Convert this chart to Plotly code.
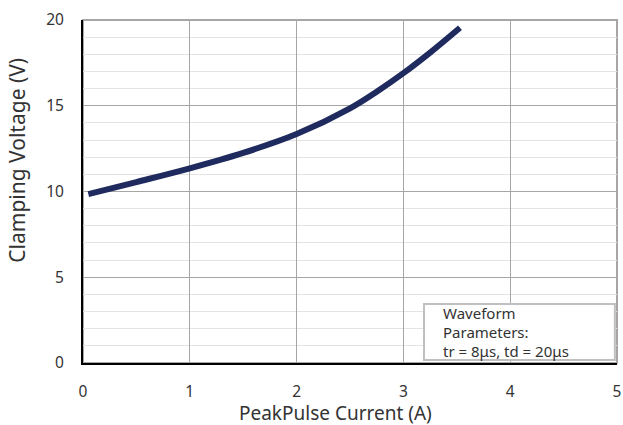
import plotly.graph_objects as go

current_a = [0.05, 0.5, 1.0, 1.5, 2.0, 2.5, 2.75, 3.0, 3.25, 3.53]
clamp_v = [9.85, 10.55, 11.35, 12.25, 13.35, 14.85, 15.82, 16.9, 18.1, 19.55]
x_ticks = [0, 1, 2, 3, 4, 5]
y_ticks = [0, 5, 10, 15, 20]
note_lines = ["Waveform", "Parameters:", "tr = 8μs, td = 20μs"]
note_y = [2.9, 1.79, 0.7]

FONT = "Noto Sans, Open Sans, sans-serif"
TXT = "#333333"

fig = go.Figure()
fig.add_trace(go.Scatter(
    x=current_a, y=clamp_v, mode="lines",
    line=dict(color="#1f2a5e", width=6, shape="spline", smoothing=1.0),
    showlegend=False, hoverinfo="skip"))

fig.update_layout(
    width=623, height=425,
    margin=dict(l=83, r=6, t=20, b=62),
    paper_bgcolor="white", plot_bgcolor="white",
    font=dict(family=FONT, color=TXT, size=15.5),
    xaxis=dict(range=[0, 5], tickvals=x_ticks, ticktext=[str(v) for v in x_ticks],
               automargin=False,
               showgrid=True, gridcolor="#a6a6a6", gridwidth=1,
               zeroline=False, showline=True, linecolor="black", linewidth=2,
               ticks="", ticklabelstandoff=13),
    yaxis=dict(range=[0, 20], tickvals=y_ticks, ticktext=[str(v) for v in y_ticks],
               automargin=False,
               showgrid=True, gridcolor="#a6a6a6", gridwidth=1,
               minor=dict(dtick=1, showgrid=True, gridcolor="#e3e3e3", gridwidth=1),
               zeroline=False, showline=True, linecolor="black", linewidth=2,
               ticks="", ticklabelstandoff=14),
)

# axis titles placed as in the reference
fig.add_annotation(xref="paper", yref="paper", x=0.472, y=-0.1465, xanchor="center", yanchor="middle",
                   text="PeakPulse Current (A)", showarrow=False,
                   font=dict(family=FONT, size=19, color=TXT))
fig.add_annotation(xref="paper", yref="paper", x=-0.124, y=0.592, xanchor="center", yanchor="middle",
                   text="Clamping Voltage (V)", textangle=-90, showarrow=False,
                   font=dict(family=FONT, size=21, color=TXT))

# frame (top/right border)
fig.add_shape(type="rect", xref="paper", yref="paper", x0=0, x1=1, y0=0, y1=1,
              line=dict(color="#a6a6a6", width=2), layer="below")

# note box
fig.add_shape(type="rect", xref="x", yref="y", x0=3.193, x1=4.98, y0=0.175, y1=3.44,
              line=dict(color="#c0c0c0", width=2), fillcolor="white", layer="above")
for line, yy in zip(note_lines, note_y):
    fig.add_annotation(xref="x", yref="y", x=3.35, y=yy, xanchor="left", yanchor="middle",
                       text=line, showarrow=False, align="left",
                       font=dict(family=FONT, size=15, color=TXT))

fig.write_html("out.html", post_script="document.body.style.margin='0';",
               config={"displayModeBar": False})
